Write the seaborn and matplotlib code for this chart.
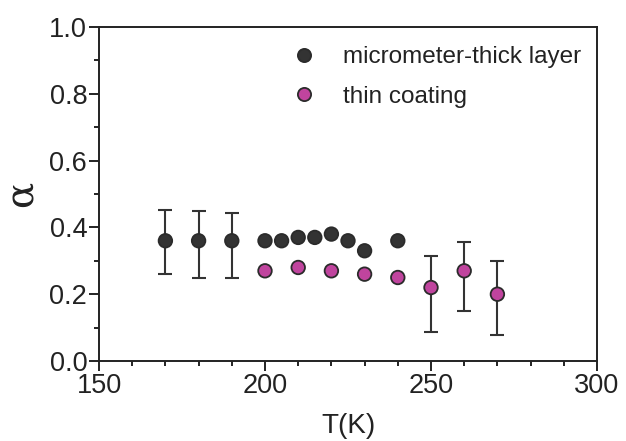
import matplotlib
matplotlib.use("Agg")
import matplotlib.pyplot as plt
import seaborn as sns
import numpy as np
import pandas as pd
from matplotlib.ticker import MultipleLocator, FormatStrFormatter
from matplotlib.lines import Line2D

sns.set_style("ticks")
plt.rcParams['font.family'] = ['Liberation Sans', 'DejaVu Sans']

thick_T = [170, 180, 190, 200, 205, 210, 215, 220, 225, 230, 240]
thick_a = [0.36, 0.36, 0.36, 0.36, 0.36, 0.37, 0.37, 0.38, 0.36, 0.33, 0.36]
thick_err_T = [170, 180, 190]
thick_err_lo = [0.26, 0.25, 0.25]
thick_err_hi = [0.452, 0.449, 0.443]

thin_T = [200, 210, 220, 230, 240, 250, 260, 270]
thin_a = [0.27, 0.28, 0.27, 0.26, 0.25, 0.22, 0.27, 0.20]
thin_err_T = [250, 260, 270]
thin_err_lo = [0.088, 0.149, 0.078]
thin_err_hi = [0.314, 0.357, 0.30]

labels = ["micrometer-thick layer", "thin coating"]
colors = ["#333333", "#c0449e"]
edge = "#2b2b2b"
ink = "#222222"

fig = plt.figure(figsize=(6.26, 4.41), dpi=100)
ax = fig.add_axes([99/626, 1-361/441, (597-99)/626, (361-27)/441])

df = pd.DataFrame({
    "T": thick_T + thin_T,
    "a": thick_a + thin_a,
    "s": [labels[0]]*len(thick_T) + [labels[1]]*len(thin_T),
})

def draw_err(Ts, lo, hi, centers):
    centers = np.array(centers)
    ax.errorbar(Ts, centers, yerr=[centers - np.array(lo), np.array(hi) - centers],
                fmt="none", ecolor="#333333", elinewidth=1.5, capsize=4.8, capthick=1.5, zorder=1)

tk = dict(zip(thick_T, thick_a))
draw_err(thick_err_T, thick_err_lo, thick_err_hi, [tk[t] for t in thick_err_T])
tn = dict(zip(thin_T, thin_a))
draw_err(thin_err_T, thin_err_lo, thin_err_hi, [tn[t] for t in thin_err_T])

sns.scatterplot(data=df, x="T", y="a", hue="s", palette=colors, s=95,
                edgecolor=edge, linewidth=1.3, ax=ax, zorder=3, legend=False)

handles = [Line2D([], [], marker="o", linestyle="none", markersize=9.5,
                  markerfacecolor=c, markeredgecolor=edge, markeredgewidth=1.3)
           for c in colors]
leg = ax.legend(handles, labels, loc="upper left", bbox_to_anchor=(0.367, 0.972), frameon=False,
                fontsize=17.5, handletextpad=1.1, labelspacing=0.72, borderaxespad=0.0,
                handlelength=1.0)
for t in leg.get_texts():
    t.set_color(ink)

ax.set_xlim(150, 300)
ax.set_ylim(0, 1.0)
ax.xaxis.set_major_locator(MultipleLocator(50))
ax.xaxis.set_minor_locator(MultipleLocator(10))
ax.yaxis.set_major_locator(MultipleLocator(0.2))
ax.yaxis.set_minor_locator(MultipleLocator(0.1))
ax.yaxis.set_major_formatter(FormatStrFormatter("%.1f"))

for sp in ax.spines.values():
    sp.set_color(ink)
    sp.set_linewidth(1.4)
ax.tick_params(axis="both", which="major", length=7, width=1.4, color=ink,
               labelsize=19.5, labelcolor=ink, pad=1.5)
ax.tick_params(axis="both", which="minor", length=3.5, width=1.4, color=ink)

ax.set_xlabel("T(K)", fontsize=20, color=ink, labelpad=10)
ax.set_ylabel("α", fontsize=28, color=ink, family=["DejaVu Serif"], labelpad=7)

fig.savefig("out.png", dpi=100)
